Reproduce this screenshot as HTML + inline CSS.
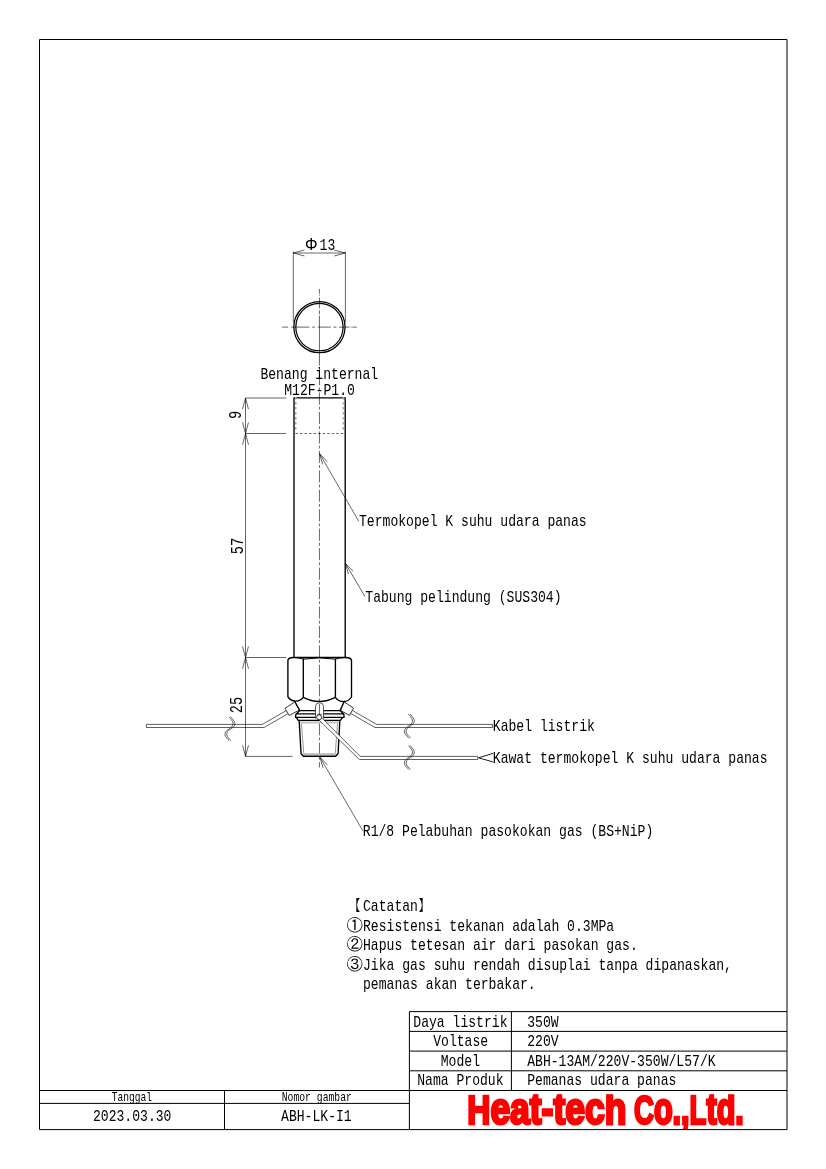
<!DOCTYPE html>
<html lang="id"><head><meta charset="utf-8"><title>ABH-13AM/220V-350W/L57/K</title>
<style>
html,body{margin:0;padding:0;background:#fff;}
svg{display:block;will-change:transform;}
svg line,svg path,svg circle,svg rect{stroke:#000;fill:none;stroke-linejoin:round;}
svg text{font-family:"Liberation Mono","IPAGothic",monospace;fill:#000;}
svg text.logo{font-family:"Liberation Sans","IPAGothic",sans-serif;font-weight:bold;fill:#f00;stroke:#f00;}
</style></head><body>
<svg width="826" height="1169" viewBox="0 0 826 1169">
<defs><clipPath id="lc"><rect x="410" y="1094.3" width="377" height="35"/></clipPath></defs>
<g id="logo" clip-path="url(#lc)"><text class="logo" transform="translate(467.3 1123.9) scale(0.8 1)" font-size="44.3" stroke-width="2.6" vector-effect="non-scaling-stroke"><tspan font-size="40">H</tspan>eat-tech</text><text class="logo" transform="translate(634 1123.9) scale(0.69 1)" font-size="44.3" stroke-width="2.6" vector-effect="non-scaling-stroke"><tspan font-size="40">C</tspan>o.,<tspan font-size="40">L</tspan>td.</text></g>
<g id="frame">
<rect x="39.5" y="39.5" width="747.5" height="1090.1" stroke-width="1"/>
<line x1="39.5" y1="1090.5" x2="787" y2="1090.5" stroke-width="1" />
<line x1="409.4" y1="1011.6" x2="787" y2="1011.6" stroke-width="1" />
<line x1="409.4" y1="1031.4" x2="787" y2="1031.4" stroke-width="1" />
<line x1="409.4" y1="1051.1" x2="787" y2="1051.1" stroke-width="1" />
<line x1="409.4" y1="1070.8" x2="787" y2="1070.8" stroke-width="1" />
<line x1="409.4" y1="1011.6" x2="409.4" y2="1129.6" stroke-width="1" />
<line x1="511.4" y1="1011.6" x2="511.4" y2="1090.5" stroke-width="1" />
<line x1="39.5" y1="1103.4" x2="409.4" y2="1103.4" stroke-width="1" />
<line x1="224.5" y1="1090.5" x2="224.5" y2="1129.6" stroke-width="1" />
</g>
<g id="titletext">
<text x="413.30" y="1026.6" font-size="17.0" textLength="94.20" lengthAdjust="spacingAndGlyphs" >Daya listrik</text>
<text x="433.22" y="1046.0" font-size="17.0" textLength="54.95" lengthAdjust="spacingAndGlyphs" >Voltase</text>
<text x="440.77" y="1065.7" font-size="17.0" textLength="39.25" lengthAdjust="spacingAndGlyphs" >Model</text>
<text x="417.22" y="1085.3" font-size="17.0" textLength="86.35" lengthAdjust="spacingAndGlyphs" >Nama Produk</text>
<text x="527.20" y="1026.6" font-size="17.0" textLength="31.40" lengthAdjust="spacingAndGlyphs" >350W</text>
<text x="527.20" y="1046.0" font-size="17.0" textLength="31.40" lengthAdjust="spacingAndGlyphs" >220V</text>
<text x="527.20" y="1065.7" font-size="17.0" textLength="188.40" lengthAdjust="spacingAndGlyphs" >ABH-13AM/220V-350W/L57/K</text>
<text x="527.20" y="1085.3" font-size="17.0" textLength="149.15" lengthAdjust="spacingAndGlyphs" >Pemanas udara panas</text>
<text x="111.68" y="1101.0" font-size="12.6" textLength="40.25" lengthAdjust="spacingAndGlyphs" >Tanggal</text>
<text x="281.70" y="1101.0" font-size="12.6" textLength="70.20" lengthAdjust="spacingAndGlyphs" >Nomor gambar</text>
<text x="92.95" y="1121.4" font-size="17.0" textLength="78.50" lengthAdjust="spacingAndGlyphs" >2023.03.30</text>
<text x="281.07" y="1121.4" font-size="17.0" textLength="70.65" lengthAdjust="spacingAndGlyphs" >ABH-LK-I1</text>
</g>
<g id="notes">
<text x="345.2" y="910.9" font-size="15.7" >【</text>
<text x="363.00" y="910.9" font-size="17.0" textLength="54.95" lengthAdjust="spacingAndGlyphs" >Catatan</text>
<text x="417.95" y="910.9" font-size="15.7" >】</text>
<text x="346.4" y="930.5" font-size="16.4" >①</text>
<text x="363.00" y="930.5" font-size="17.0" textLength="251.20" lengthAdjust="spacingAndGlyphs" >Resistensi tekanan adalah 0.3MPa</text>
<text x="346.4" y="950.1" font-size="16.4" >②</text>
<text x="363.00" y="950.1" font-size="17.0" textLength="274.75" lengthAdjust="spacingAndGlyphs" >Hapus tetesan air dari pasokan gas.</text>
<text x="346.4" y="969.7" font-size="16.4" >③</text>
<text x="363.00" y="969.7" font-size="17.0" textLength="368.95" lengthAdjust="spacingAndGlyphs" >Jika gas suhu rendah disuplai tanpa dipanaskan,</text>
<text x="363.00" y="989.3" font-size="17.0" textLength="172.70" lengthAdjust="spacingAndGlyphs" >pemanas akan terbakar.</text>
</g>
<g id="topview">
<circle cx="319.45" cy="327.1" r="25.6" stroke-width="1.25"/>
<circle cx="319.45" cy="327.1" r="23.65" stroke-width="1.2"/>
<line x1="293.3" y1="251.5" x2="293.3" y2="322" stroke-width="0.6" />
<line x1="345.4" y1="251.5" x2="345.4" y2="322" stroke-width="0.6" />
<line x1="293.3" y1="253.0" x2="345.4" y2="253.0" stroke-width="0.6" />
<line x1="293.3" y1="253.0" x2="304.41" y2="250.02" stroke-width="0.6" />
<line x1="293.3" y1="253.0" x2="304.41" y2="255.98" stroke-width="0.6" />
<line x1="345.4" y1="253.0" x2="334.29" y2="255.98" stroke-width="0.6" />
<line x1="345.4" y1="253.0" x2="334.29" y2="250.02" stroke-width="0.6" />
<line x1="282.1" y1="327.1" x2="288.2" y2="327.1" stroke-width="0.6" />
<line x1="291.2" y1="327.1" x2="309.5" y2="327.1" stroke-width="0.6" />
<line x1="312.1" y1="327.1" x2="315.1" y2="327.1" stroke-width="0.6" />
<line x1="317.7" y1="327.1" x2="330.9" y2="327.1" stroke-width="0.6" />
<line x1="333.4" y1="327.1" x2="336.5" y2="327.1" stroke-width="0.6" />
<line x1="339.0" y1="327.1" x2="349.4" y2="327.1" stroke-width="0.6" />
<line x1="350.6" y1="327.1" x2="351.6" y2="327.1" stroke-width="0.6" />
<line x1="352.3" y1="327.1" x2="356.8" y2="327.1" stroke-width="0.6" />
<text x="304.9" y="250.0" font-size="15.7" style="font-family:'Liberation Sans','IPAGothic',sans-serif">Φ</text>
<text x="319.60" y="250.0" font-size="17.0" textLength="15.70" lengthAdjust="spacingAndGlyphs" >13</text>
</g>
<g id="centre">
<line x1="319.45" y1="289.0" x2="319.45" y2="293.7" stroke-width="0.6" />
<line x1="319.45" y1="294.6" x2="319.45" y2="295.6" stroke-width="0.6" />
<line x1="319.45" y1="297.5" x2="319.45" y2="308.2" stroke-width="0.6" />
<line x1="319.45" y1="310.4" x2="319.45" y2="314.2" stroke-width="0.6" />
<line x1="319.45" y1="315.5" x2="319.45" y2="365.6" stroke-width="0.6" />
<line x1="319.45" y1="367.9" x2="319.45" y2="370.7" stroke-width="0.6" />
<line x1="319.45" y1="373.1" x2="319.45" y2="385.2" stroke-width="0.6" />
<line x1="319.45" y1="387.4" x2="319.45" y2="390.2" stroke-width="0.6" />
<line x1="319.45" y1="392.5" x2="319.45" y2="404.6" stroke-width="0.6" />
<line x1="319.45" y1="406.8" x2="319.45" y2="409.6" stroke-width="0.6" />
<line x1="319.45" y1="411.9" x2="319.45" y2="424.1" stroke-width="0.6" />
<line x1="319.45" y1="426.2" x2="319.45" y2="429.1" stroke-width="0.6" />
<line x1="319.45" y1="431.4" x2="319.45" y2="443.5" stroke-width="0.6" />
<line x1="319.45" y1="445.7" x2="319.45" y2="448.5" stroke-width="0.6" />
<line x1="319.45" y1="450.8" x2="319.45" y2="462.9" stroke-width="0.6" />
<line x1="319.45" y1="465.1" x2="319.45" y2="467.9" stroke-width="0.6" />
<line x1="319.45" y1="470.3" x2="319.45" y2="482.4" stroke-width="0.6" />
<line x1="319.45" y1="484.6" x2="319.45" y2="487.4" stroke-width="0.6" />
<line x1="319.45" y1="489.7" x2="319.45" y2="501.8" stroke-width="0.6" />
<line x1="319.45" y1="504.0" x2="319.45" y2="506.8" stroke-width="0.6" />
<line x1="319.45" y1="509.2" x2="319.45" y2="521.3" stroke-width="0.6" />
<line x1="319.45" y1="523.5" x2="319.45" y2="526.3" stroke-width="0.6" />
<line x1="319.45" y1="528.6" x2="319.45" y2="540.8" stroke-width="0.6" />
<line x1="319.45" y1="542.9" x2="319.45" y2="545.8" stroke-width="0.6" />
<line x1="319.45" y1="548.1" x2="319.45" y2="560.2" stroke-width="0.6" />
<line x1="319.45" y1="562.4" x2="319.45" y2="565.2" stroke-width="0.6" />
<line x1="319.45" y1="567.6" x2="319.45" y2="579.7" stroke-width="0.6" />
<line x1="319.45" y1="581.9" x2="319.45" y2="584.7" stroke-width="0.6" />
<line x1="319.45" y1="587.0" x2="319.45" y2="599.1" stroke-width="0.6" />
<line x1="319.45" y1="601.3" x2="319.45" y2="604.1" stroke-width="0.6" />
<line x1="319.45" y1="606.5" x2="319.45" y2="618.6" stroke-width="0.6" />
<line x1="319.45" y1="620.8" x2="319.45" y2="623.6" stroke-width="0.6" />
<line x1="319.45" y1="625.9" x2="319.45" y2="638.0" stroke-width="0.6" />
<line x1="319.45" y1="640.2" x2="319.45" y2="643.0" stroke-width="0.6" />
<line x1="319.45" y1="645.4" x2="319.45" y2="657.5" stroke-width="0.6" />
<line x1="319.45" y1="659.7" x2="319.45" y2="662.5" stroke-width="0.6" />
<line x1="319.45" y1="664.8" x2="319.45" y2="676.9" stroke-width="0.6" />
<line x1="319.45" y1="679.1" x2="319.45" y2="681.9" stroke-width="0.6" />
<line x1="319.45" y1="684.3" x2="319.45" y2="696.4" stroke-width="0.6" />
<line x1="319.45" y1="698.6" x2="319.45" y2="701.4" stroke-width="0.6" />
<line x1="319.45" y1="703.7" x2="319.45" y2="715.8" stroke-width="0.6" />
<line x1="319.45" y1="718.0" x2="319.45" y2="720.8" stroke-width="0.6" />
<line x1="319.45" y1="723.2" x2="319.45" y2="735.3" stroke-width="0.6" />
<line x1="319.45" y1="737.5" x2="319.45" y2="740.3" stroke-width="0.6" />
<line x1="319.45" y1="742.6" x2="319.45" y2="754.7" stroke-width="0.6" />
<line x1="319.45" y1="756.9" x2="319.45" y2="759.7" stroke-width="0.6" />
<line x1="319.45" y1="762.1" x2="319.45" y2="767.5" stroke-width="0.6" />
</g>
<g id="main">
<path d="M294.0 657.5 V397.8 H345.2 V657.5" stroke-width="1.35" />
<line x1="295.4" y1="433.5" x2="343.9" y2="433.5" stroke-width="0.6" stroke-dasharray="2.6 1.93"/>
<line x1="295.75" y1="397.1" x2="295.75" y2="432.0" stroke-width="1.5" stroke-dasharray="2.5 2.5" style="stroke:#a6a6a6"/>
<line x1="343.4" y1="397.1" x2="343.4" y2="432.0" stroke-width="1.5" stroke-dasharray="2.5 2.5" style="stroke:#a6a6a6"/>
<line x1="293.0" y1="657.5" x2="346.2" y2="657.5" stroke-width="1.35" />
<path d="M287.9 697.0 V660.6 Q287.9 657.6 293.5 657.5" stroke-width="1.35" />
<path d="M351.5 697.0 V660.6 Q351.5 657.6 345.7 657.5" stroke-width="1.35" />
<line x1="303.3" y1="658.6" x2="303.3" y2="697.4" stroke-width="1.35" />
<line x1="335.4" y1="658.6" x2="335.4" y2="697.4" stroke-width="1.35" />
<path d="M303.3 659.2 Q319.35 656.4 335.4 659.2" stroke-width="1.0" />
<path d="M303.3 659.2 Q299.3 657.7 294.3 657.5" stroke-width="1.0" />
<path d="M335.4 659.2 Q339.4 657.7 344.4 657.5" stroke-width="1.0" />
<path d="M287.9 697.0 A9.6 9.6 0 0 0 303.3 697.4" stroke-width="1.35" />
<path d="M335.4 697.4 A9.6 9.6 0 0 0 351.5 697.0" stroke-width="1.35" />
<path d="M303.3 697.4 A35 35 0 0 0 335.4 697.4" stroke-width="1.35" />
<line x1="294.4" y1="700.8" x2="299.8" y2="710.6" stroke-width="1.35" />
<line x1="344.6" y1="700.8" x2="340.1" y2="710.6" stroke-width="1.35" />
<path d="M299.8 710.6 H340.1" stroke-width="1.35" />
<path d="M299.8 710.6 L296.3 713.9 H343.6 L340.1 710.6" stroke-width="1.35" />
<path d="M296.3 713.9 Q295.3 715.6 295.6 717.35 H344.0 Q344.3 715.6 343.6 713.9" stroke-width="1.35" />
<path d="M296.2 717.35 L298.3 720.35 H340.4 L342.8 717.35" stroke-width="1.35" />
<path d="M299.1 720.4 L299.2 721.1 L301.05 753.5 L303.5 756.25 H335.7 L338.1 753.5 L339.8 721.1 L339.9 720.4" stroke-width="1.35" />
<path d="M300.4 722.5 H338.7" stroke-width="2.0" style="stroke:#c2c2c2"/>
<path d="M303.6 754.1 H335.6" stroke-width="1.6" style="stroke:#b8b8b8"/>
<path d="M301.4 723.4 L303.8 753.6" stroke-width="1.0" style="stroke:#9a9a9a"/>
<path d="M337.5 723.4 L335.3 753.6" stroke-width="1.0" style="stroke:#9a9a9a"/>
<path d="M315.5 718.6 V706.6 Q315.5 702.7 319.5 702.7 Q323.5 702.7 323.5 706.6 V718.6" stroke-width="0.75" style="fill:#fff;stroke:#222"/>
<line x1="317.1" y1="714.3" x2="321.8" y2="714.3" stroke-width="0.6" />
<line x1="319.45" y1="703.8" x2="319.45" y2="715.6" stroke-width="0.6" />
</g>
<g id="wires">
<path d="M320.2 716.3 L360.2 756.4 H477.7 V759.5 H359.4 L317.6 718.7" stroke-width="0.62" style="fill:#fff"/>
<circle cx="319.1" cy="717.3" r="2.5" stroke-width="0.8" style="fill:#fff"/>
<path d="M493.3 753.3 L478.6 757.8 L493.3 762.0" stroke-width="0.9" />
<path d="M344.5 702.1 L353.6 708.2 L349.4 715.4 L339.7 710.0" stroke-width="0.8" />
<path d="M352.7 710.6 L376.6 724.4 H492.6" stroke-width="0.62" />
<path d="M350.9 713.6 L375.0 727.5 H492.6" stroke-width="0.62" />
<line x1="492.6" y1="724.4" x2="492.6" y2="727.5" stroke-width="0.62" />
<path d="M294.0 702.4 L285.0 708.4 L289.3 715.5 L299.2 710.1" stroke-width="0.8" />
<path d="M286.0 710.7 L262.4 724.4 H146.4" stroke-width="0.62" />
<path d="M287.9 713.8 L264.1 727.5 H146.4" stroke-width="0.62" />
<line x1="146.4" y1="724.4" x2="146.4" y2="727.5" stroke-width="0.62" />
<path d="M228.8 716.8 C232.8 720.8 235.8 724.8 229.20000000000002 728.8 C222.3 732.8 224.8 736.8 229.4 740.8" stroke-width="0.7" style="stroke:#222"/>
<path d="M230.60000000000002 716.8 C234.60000000000002 720.8 237.60000000000002 724.8 231.00000000000003 728.8 C224.10000000000002 732.8 226.60000000000002 736.8 231.20000000000002 740.8" stroke-width="0.7" style="stroke:#222"/>
<path d="M408.2 714.0 C412.2 718.0 415.2 722.0 408.59999999999997 726.0 C401.7 730.0 404.2 734.0 408.8 738.0" stroke-width="0.7" style="stroke:#222"/>
<path d="M410.0 714.0 C414.0 718.0 417.0 722.0 410.4 726.0 C403.5 730.0 406.0 734.0 410.6 738.0" stroke-width="0.7" style="stroke:#222"/>
<path d="M408.2 745.5 C412.2 749.5 415.2 753.5 408.59999999999997 757.5 C401.7 761.5 404.2 765.5 408.8 769.5" stroke-width="0.7" style="stroke:#222"/>
<path d="M410.0 745.5 C414.0 749.5 417.0 753.5 410.4 757.5 C403.5 761.5 406.0 765.5 410.6 769.5" stroke-width="0.7" style="stroke:#222"/>
</g>
<g id="dims">
<line x1="245.5" y1="398.0" x2="286.2" y2="398.0" stroke-width="0.6" />
<line x1="245.5" y1="433.5" x2="286.2" y2="433.5" stroke-width="0.6" />
<line x1="245.5" y1="657.5" x2="286.2" y2="657.5" stroke-width="0.6" />
<line x1="245.5" y1="756.4" x2="292.6" y2="756.4" stroke-width="0.6" />
<line x1="245.5" y1="398.0" x2="245.5" y2="756.4" stroke-width="0.6" />
<line x1="245.5" y1="398.0" x2="248.48" y2="409.11" stroke-width="0.6" />
<line x1="245.5" y1="398.0" x2="242.52" y2="409.11" stroke-width="0.6" />
<line x1="245.5" y1="433.5" x2="242.52" y2="422.39" stroke-width="0.6" />
<line x1="245.5" y1="433.5" x2="248.48" y2="422.39" stroke-width="0.6" />
<line x1="245.5" y1="433.5" x2="248.48" y2="444.61" stroke-width="0.6" />
<line x1="245.5" y1="433.5" x2="242.52" y2="444.61" stroke-width="0.6" />
<line x1="245.5" y1="657.5" x2="242.52" y2="646.39" stroke-width="0.6" />
<line x1="245.5" y1="657.5" x2="248.48" y2="646.39" stroke-width="0.6" />
<line x1="245.5" y1="657.5" x2="248.48" y2="668.61" stroke-width="0.6" />
<line x1="245.5" y1="657.5" x2="242.52" y2="668.61" stroke-width="0.6" />
<line x1="245.5" y1="756.4" x2="242.52" y2="745.29" stroke-width="0.6" />
<line x1="245.5" y1="756.4" x2="248.48" y2="745.29" stroke-width="0.6" />
<text x="237.40" y="414.8" font-size="18.2" textLength="8.20" lengthAdjust="spacingAndGlyphs" transform="rotate(-90 241.5 414.8)" >9</text>
<text x="235.10" y="546.0" font-size="18.2" textLength="16.40" lengthAdjust="spacingAndGlyphs" transform="rotate(-90 243.3 546.0)" >57</text>
<text x="233.70" y="705.0" font-size="18.2" textLength="16.40" lengthAdjust="spacingAndGlyphs" transform="rotate(-90 241.9 705.0)" >25</text>
</g>
<g id="labels">
<line x1="319.6" y1="453.7" x2="358.7" y2="521.2" stroke-width="0.6" />
<line x1="319.6" y1="453.7" x2="327.25" y2="461.6" stroke-width="0.6" />
<line x1="319.6" y1="453.7" x2="322.65" y2="464.27" stroke-width="0.6" />
<text x="359.00" y="526.4" font-size="17.0" textLength="227.65" lengthAdjust="spacingAndGlyphs" >Termokopel K suhu udara panas</text>
<line x1="345.4" y1="563.4" x2="365.0" y2="596.6" stroke-width="0.6" />
<line x1="345.4" y1="563.4" x2="353.12" y2="571.24" stroke-width="0.6" />
<line x1="345.4" y1="563.4" x2="348.53" y2="573.94" stroke-width="0.6" />
<text x="365.30" y="601.9" font-size="17.0" textLength="196.25" lengthAdjust="spacingAndGlyphs" >Tabung pelindung (SUS304)</text>
<line x1="320.0" y1="757.3" x2="362.8" y2="830.7" stroke-width="0.6" />
<line x1="320.0" y1="757.3" x2="327.68" y2="765.18" stroke-width="0.6" />
<line x1="320.0" y1="757.3" x2="323.08" y2="767.86" stroke-width="0.6" />
<text x="362.80" y="836.2" font-size="17.0" textLength="290.45" lengthAdjust="spacingAndGlyphs" >R1/8 Pelabuhan pasokokan gas (BS+NiP)</text>
<text x="492.80" y="731.3" font-size="17.0" textLength="102.05" lengthAdjust="spacingAndGlyphs" >Kabel listrik</text>
<text x="492.80" y="762.6" font-size="17.0" textLength="274.75" lengthAdjust="spacingAndGlyphs" >Kawat termokopel K suhu udara panas</text>
<text x="260.40" y="379.0" font-size="17.0" textLength="117.75" lengthAdjust="spacingAndGlyphs" >Benang internal</text>
<text x="284.20" y="395.0" font-size="17.0" textLength="70.65" lengthAdjust="spacingAndGlyphs" >M12F-P1.0</text>
</g>
</svg></body></html>
